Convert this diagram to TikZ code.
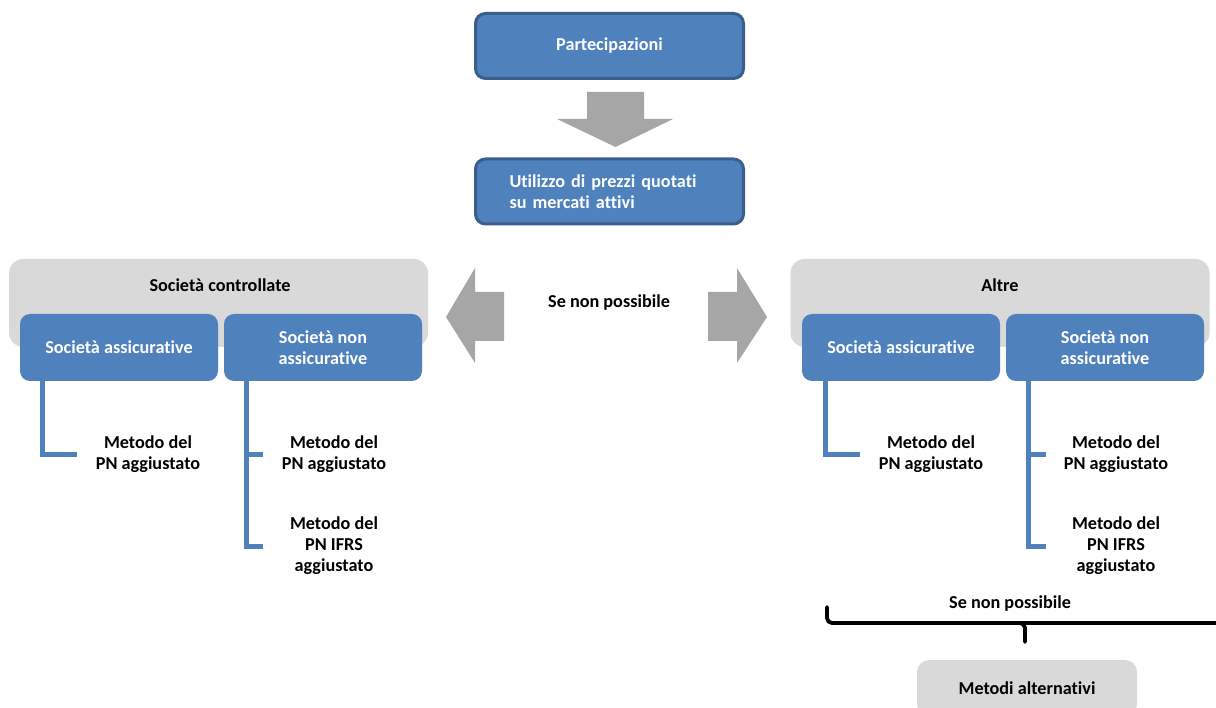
\documentclass[tikz,border=0pt]{standalone}
\usepackage{fontspec}
\setmainfont{Carlito}[Ligatures=CommonOff]
\usetikzlibrary{positioning}
\definecolor{boxblue}{HTML}{4F81BD}
\definecolor{boxedge}{HTML}{3A5F8C}
\definecolor{boxgray}{HTML}{D9D9D9}
\definecolor{arrowgray}{HTML}{A6A6A6}
\begin{document}
\begin{tikzpicture}[x=1pt,y=-1pt,
    txt/.style={font=\fontsize{18.2}{21}\selectfont\bfseries, align=center},
    bluebox/.style={txt, fill=boxblue, text=white, rounded corners=10pt,
      minimum width=198pt, minimum height=67pt, inner sep=0pt},
    topbox/.style={bluebox, draw=boxedge, line width=3pt,
      minimum width=268pt, minimum height=65pt},
    groupbox/.style={fill=boxgray, rounded corners=14pt,
      minimum width=419pt, minimum height=88pt},
    treeline/.style={draw=boxblue, line width=5pt},
    bigarrow/.style={fill=arrowgray},
    brace/.style={draw=black, line width=3.8pt, rounded corners=5pt}]
  \clip (0,0) rectangle (1216,708);

  % top
  \node[topbox] (part) at (609.5,46) {Partecipazioni};
  \fill[bigarrow] (587,92) -- (644,92) -- (644,119) -- (673,119) -- (615.5,147)
    -- (557,119) -- (587,119) -- cycle; %down
  \node[topbox, text width=200pt, inner xsep=34pt, align=left] (quot) at (609.5,191.5)
    {Utilizzo di prezzi quotati\\su mercati attivi};

  % side arrows
  \fill[bigarrow] (504,292) -- (475,292) -- (475,268) -- (446,317) -- (475,363)
    -- (475,341) -- (504,341) -- cycle;
  \fill[bigarrow] (708,292) -- (737,292) -- (737,268) -- (767,317) -- (737,363)
    -- (737,341) -- (708,341) -- cycle;
  \node[txt] (snp) at (609,303) {Se non possibile};

  % left group
  \node[groupbox] (ctrl) at (218.5,303) {};
  \node[txt] (ctrlt) at (220,285) {Società controllate};
  \node[bluebox] (sa1) at (119,347.5) {Società assicurative};
  \node[bluebox] (sn1) at (323,347.5) {Società non\\assicurative};
  \node[txt] (m11) at (148,454.5) {Metodo del\\PN aggiustato};
  \node[txt] (m21) at (334,454.5) {Metodo del\\PN aggiustato};
  \node[txt] (m22) at (334,546) {Metodo del\\PN IFRS\\aggiustato};
  \coordinate (t1) at ([xshift=23pt]sa1.south west);
  \coordinate (t2) at ([xshift=23pt]sn1.south west);
  \draw[treeline] (t1) |- ([xshift=34pt]t1 |- m11);
  \draw[treeline] (t2) |- ([xshift=16pt]t2 |- m22);
  \draw[treeline] (t2 |- m21) -- ++(16,0);

  % right group
  \node[groupbox] (altre) at (1000,303) {};
  \node[txt] (altret) at (1000,285) {Altre};
  \node[bluebox] (sa2) at (901,347.5) {Società assicurative};
  \node[bluebox] (sn2) at (1105,347.5) {Società non\\assicurative};
  \node[txt] (m31) at (931,454.5) {Metodo del\\PN aggiustato};
  \node[txt] (m41) at (1116,454.5) {Metodo del\\PN aggiustato};
  \node[txt] (m42) at (1116,546) {Metodo del\\PN IFRS\\aggiustato};
  \coordinate (t3) at ([xshift=24pt]sa2.south west);
  \coordinate (t4) at ([xshift=23pt]sn2.south west);
  \draw[treeline] (t3) |- ([xshift=34pt]t3 |- m31);
  \draw[treeline] (t4) |- ([xshift=17pt]t4 |- m42);
  \draw[treeline] (t4 |- m41) -- ++(17,0);

  % bottom
  \node[txt] (snp2) at (1010,604) {Se non possibile};
  \draw[brace, line cap=round] (827,607) |- (1240,623);
  \draw[brace, line cap=round] (1020,623) -| (1025,642);
  \node[txt, fill=boxgray, rounded corners=12pt, minimum width=220pt,
    minimum height=56pt] (alt) at (1027,688) {Metodi alternativi};
\end{tikzpicture}
\end{document}
